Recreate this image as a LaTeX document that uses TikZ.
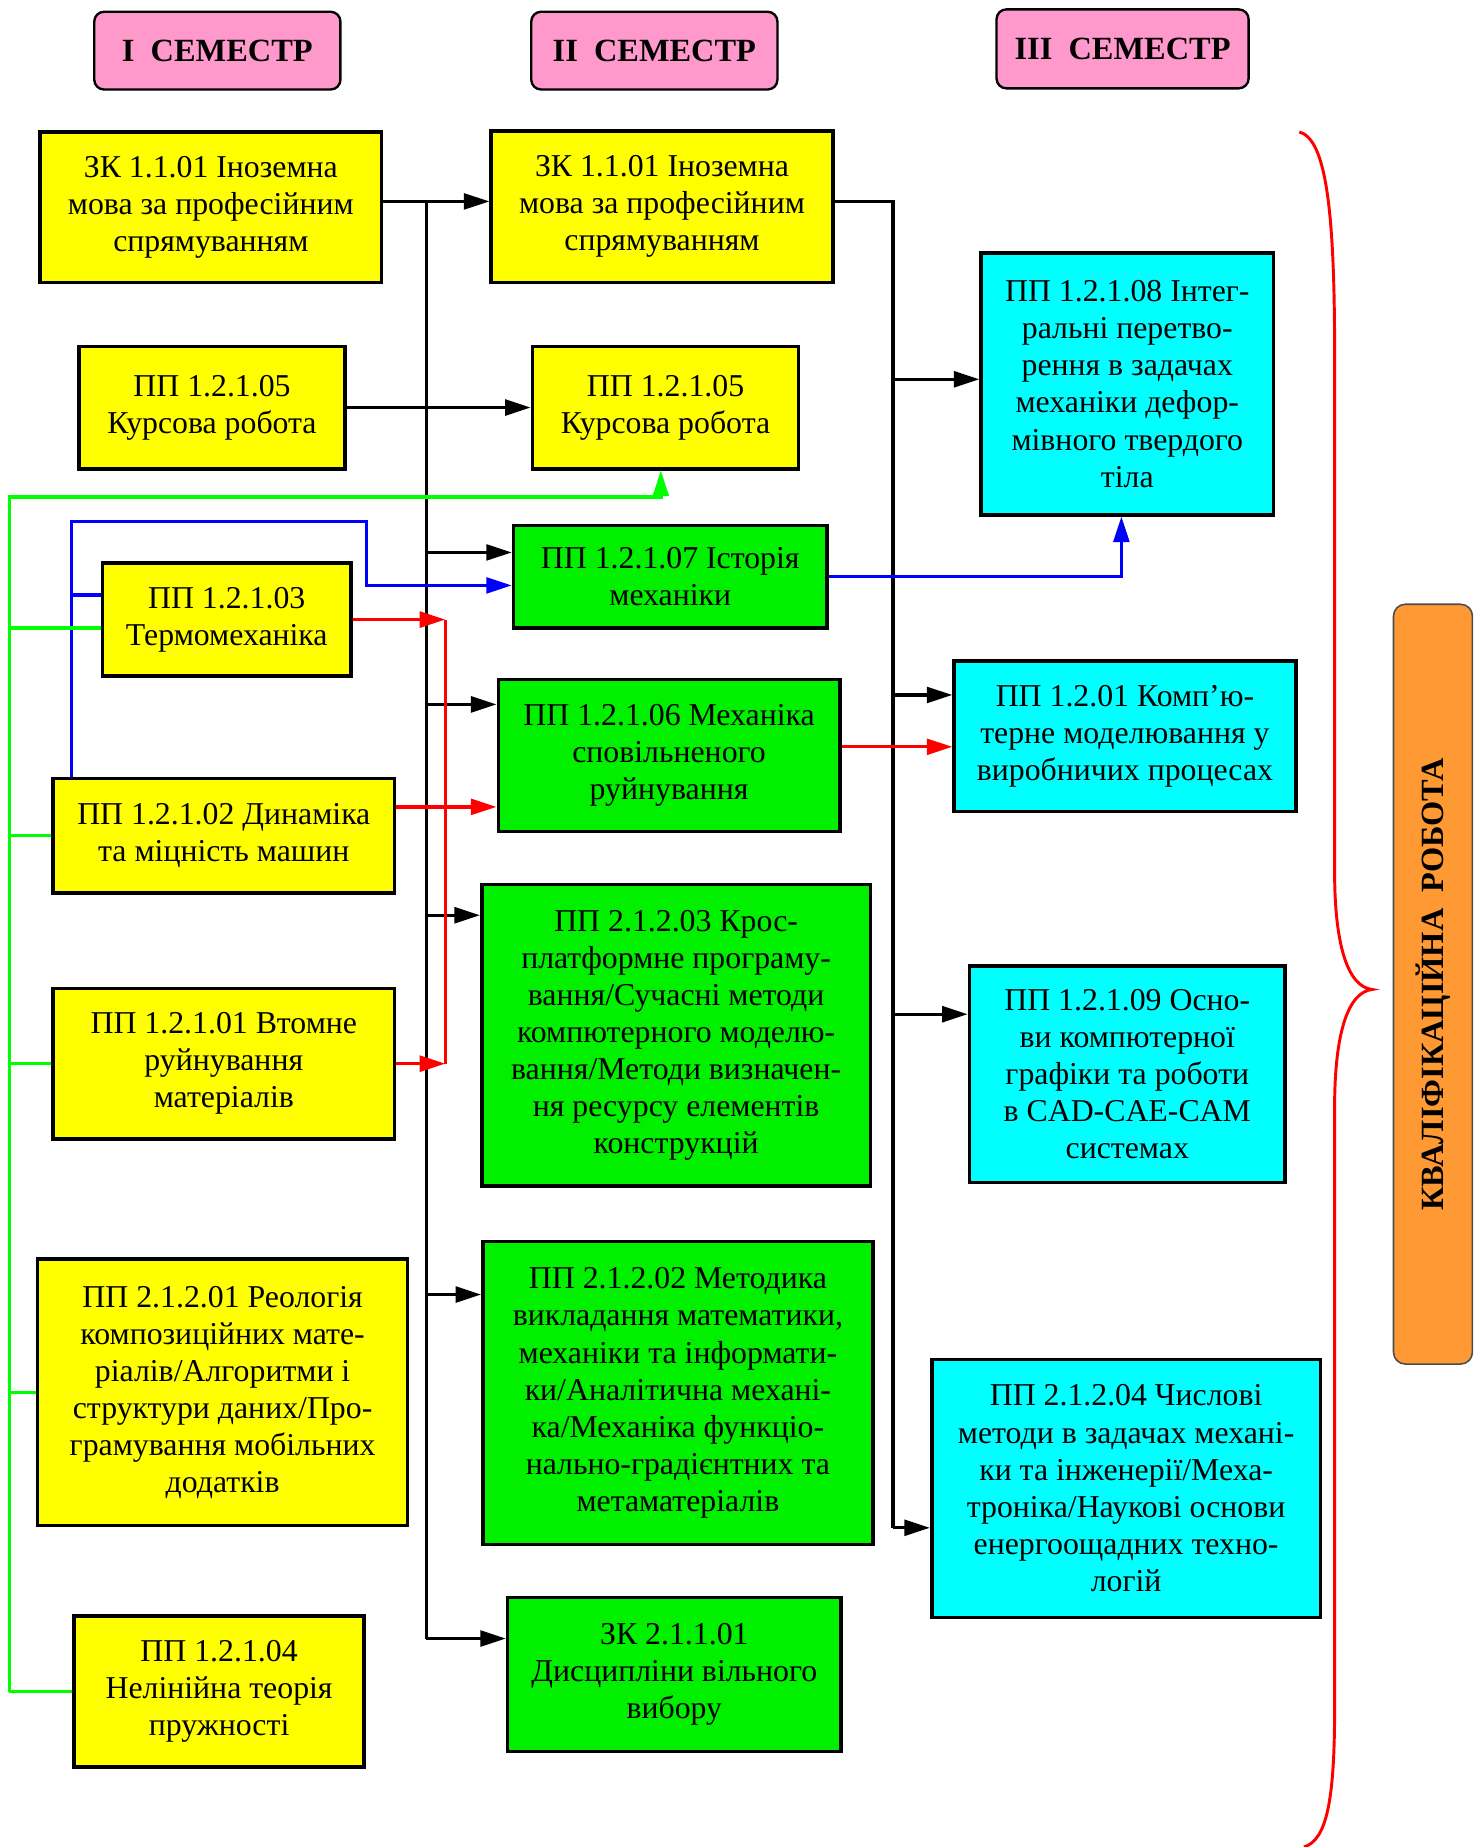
\documentclass[tikz,border=0pt]{standalone}
\usepackage{fontspec}
\setmainfont{Liberation Serif}
\usepackage{xcolor}
\usetikzlibrary{arrows.meta}
\definecolor{Sem Pink}{HTML}{FF99CC}
\definecolor{Box Yellow}{HTML}{FFFF00}
\definecolor{Box Green}{HTML}{00F000}
\definecolor{Box Cyan}{HTML}{00FFFF}
\definecolor{Work Orange}{HTML}{FF9933}
\definecolor{Link Green}{HTML}{00FF00}

\begin{document}
\begin{tikzpicture}[x=0.6pt, y=-0.6pt, >={Triangle[length=13pt,width=8pt]}]
  \useasboundingbox (0,0) rectangle (1254,1568);

  \tikzstyle{semester}=[rounded corners=5pt, draw=black, line width=1.2pt, fill=Sem Pink,
      minimum width=125.4pt, minimum height=39.6pt, font=\fontsize{16.5}{20}\selectfont\bfseries]
  \tikzstyle{course}=[draw=black, line width=1.8pt, align=center, inner sep=2pt,
      font=\fontsize{16.2}{18.9}\selectfont]
  \tikzstyle{yellow course}=[course, fill=Box Yellow]
  \tikzstyle{green course}=[course, fill=Box Green]
  \tikzstyle{cyan course}=[course, fill=Box Cyan]
  \tikzstyle{link}=[line width=1.7pt]
  \tikzstyle{arrow}=[link, ->]

  % Draw the semester headers
  \node[semester] (head-1) at (184.5,43) {I~~СЕМЕСТР};
  \node[semester] (head-2) at (555.5,43) {II~~СЕМЕСТР};
  \node[semester, minimum width=128.4pt, minimum height=40.2pt] (head-3) at (953,41.5) {III~~СЕМЕСТР};

  % Draw the first semester courses
  \node[yellow course, minimum width=174pt, minimum height=76.8pt] (S1-1) at (179,176)
      {ЗК 1.1.01 Іноземна\\мова за професійним\\спрямуванням};
  \node[yellow course, minimum width=135.6pt, minimum height=62.4pt] (S1-2) at (180,346)
      {ПП 1.2.1.05\\Курсова робота};
  \node[yellow course, minimum width=126.6pt, minimum height=57.6pt] (S1-3) at (192.5,526)
      {ПП 1.2.1.03\\Термомеханіка};
  \node[yellow course, minimum width=174pt, minimum height=58.2pt] (S1-4) at (190,709.5)
      {ПП 1.2.1.02 Динаміка\\та міцність машин};
  \node[yellow course, minimum width=174pt, minimum height=76.8pt] (S1-5) at (190,903)
      {ПП 1.2.1.01 Втомне\\руйнування\\матеріалів};
  \node[yellow course, minimum width=188.4pt, minimum height=135.6pt] (S1-6) at (189,1182)
      {ПП 2.1.2.01 Реологія\\композиційних мате-\\ріалів/Алгоритми і\\структури даних/Про-\\грамування мобільних\\додатків};
  \node[yellow course, minimum width=147.6pt, minimum height=76.8pt] (S1-7) at (186,1436)
      {ПП 1.2.1.04\\Нелінійна теорія\\пружності};

  % Draw the second semester courses
  \node[yellow course, minimum width=174pt, minimum height=77.4pt] (S2-1) at (562,175.5)
      {ЗК 1.1.01 Іноземна\\мова за професійним\\спрямуванням};
  \node[yellow course, minimum width=135.6pt, minimum height=62.4pt] (S2-2) at (565,346)
      {ПП 1.2.1.05\\Курсова робота};
  \node[green course, minimum width=159.6pt, minimum height=52.2pt] (S2-3) at (569,489.5)
      {ПП 1.2.1.07 Історія\\механіки};
  \node[green course, minimum width=174pt, minimum height=77.4pt] (S2-4) at (568,641.5)
      {ПП 1.2.1.06 Механіка\\сповільненого\\руйнування};
  \node[green course, minimum width=198pt, minimum height=153.6pt] (S2-5) at (574,879)
      {ПП 2.1.2.03 Крос-\\платформне програму-\\вання/Сучасні методи\\компютерного моделю-\\вання/Методи визначен-\\ня ресурсу елементів\\конструкцій};
  \node[green course, minimum width=198.6pt, minimum height=154.2pt] (S2-6) at (575.5,1182.5)
      {ПП 2.1.2.02 Методика\\викладання математики,\\механіки та інформати-\\ки/Аналітична механі-\\ка/Механіка функціо-\\нально-градієнтних та\\метаматеріалів};
  \node[green course, minimum width=169.8pt, minimum height=78.6pt] (S2-7) at (572.5,1421.5)
      {ЗК 2.1.1.01\\Дисципліни вільного\\вибору};

  % Draw the third semester courses
  \node[cyan course, minimum width=148.8pt, minimum height=133.2pt] (S3-1) at (957,326)
      {ПП 1.2.1.08 Інтег-\\ральні перетво-\\рення в задачах\\механіки дефор-\\мівного твердого\\тіла};
  \node[cyan course, minimum width=174pt, minimum height=76.8pt] (S3-2) at (955,625)
      {ПП 1.2.01 Комп’ю-\\терне моделювання у\\виробничих процесах};
  \node[cyan course, minimum width=160.8pt, minimum height=110.4pt] (S3-3) at (957,912)
      {ПП 1.2.1.09 Осно-\\ви компютерної\\графіки та роботи\\в CAD-CAE-CAM\\системах};
  \node[cyan course, minimum width=198pt, minimum height=131.4pt] (S3-4) at (956,1263.5)
      {ПП 2.1.2.04 Числові\\методи в задачах механі-\\ки та інженерії/Меха-\\троніка/Наукові основи\\енергоощадних техно-\\логій};

  % Final work
  \node[draw=black!70, line width=0.8pt, rounded corners=6pt, fill=Work Orange, rotate=90,
      minimum width=387pt, minimum height=40.2pt, inner sep=0pt,
      font=\fontsize{16.5}{20}\selectfont\bfseries] (Q) at (1216.5,835.5) {КВАЛІФІКАЦІЙНА~~РОБОТА};

  % Taps on the two black trunks
  \foreach \y [count=\i] in {469,598,777,1099,1391}
      \coordinate (L1-\i) at (362,\y);
  \foreach \y [count=\i] in {322,590,861,1297}
      \coordinate (L2-\i) at (758,\y);
  \coordinate (R) at (378,0);      % red bus
  \coordinate (G) at (8,422);      % green bus
  \coordinate (U) at (311,443);    % blue bend
  \coordinate (BL) at ([xshift=10.2pt]S1-4.north west);
  \coordinate (A3b) at ([yshift=12.6pt]S1-3.west);
  \coordinate (A1e) at ([yshift=3pt]S1-1.east);

  % Black connections
  \draw[arrow] (A1e) -- (A1e -| S2-1.west);
  \draw[link] (A1e -| L1-1) -- (L1-5);
  \foreach \i/\dest in {1/S2-3,2/S2-4,3/S2-5,4/S2-6,5/S2-7}
      \draw[arrow] (L1-\i) -- (L1-\i -| \dest.west);
  \draw[arrow] (S1-2.east) -- (S2-2.west);
  \draw[link] ([yshift=2.7pt]S2-1.east) -| (L2-4);
  \foreach \i/\dest in {1/S3-1,2/S3-2,3/S3-3,4/S3-4}
      \draw[arrow] (L2-\i) -- (L2-\i -| \dest.west);

  % Red connections
  \draw[arrow, red] (S1-3.east) -- (S1-3.east -| R);
  \draw[arrow, red] (S1-5.east) -- (S1-5.east -| R);
  \draw[link, red] (S1-3.east -| R) -- (S1-5.east -| R);
  \draw[arrow, red] ([yshift=14.7pt]S1-4.east) -- ([yshift=14.7pt]S1-4.east -| S2-4.west);
  \draw[arrow, red] ([yshift=4.5pt]S2-4.east) -- ([yshift=4.5pt]S2-4.east -| S3-2.west);

  % Blue connections
  \draw[arrow, blue] (BL) |- (U) |- ([yshift=-4.5pt]S2-3.west);
  \draw[link, blue] (A3b) -- (A3b -| BL);
  \draw[arrow, blue] (S2-3.east) -| ([xshift=-3pt]S3-1.south);

  % Green connections
  \draw[arrow, Link Green] (S1-7.west -| G) -- (G) -| ([xshift=-2.4pt]S2-2.south);
  \draw[link, Link Green] ([yshift=-4.2pt]S1-3.west) -- ([yshift=-4.2pt]S1-3.west -| G);
  \foreach \n in {S1-4,S1-5,S1-6,S1-7}
      \draw[link, Link Green] (\n.west) -- (\n.west -| G);

  % Brace over the third semester
  \draw[red, line width=1.5pt] (1103,112) .. controls (1126,118) and (1133,180) .. (1133,300)
      -- (1133,740) .. controls (1133,805) and (1145,838) .. (1165,840)
      .. controls (1145,842) and (1133,875) .. (1133,940)
      -- (1133,1450) .. controls (1133,1530) and (1126,1562) .. (1107,1568);

\end{tikzpicture}
\end{document}
